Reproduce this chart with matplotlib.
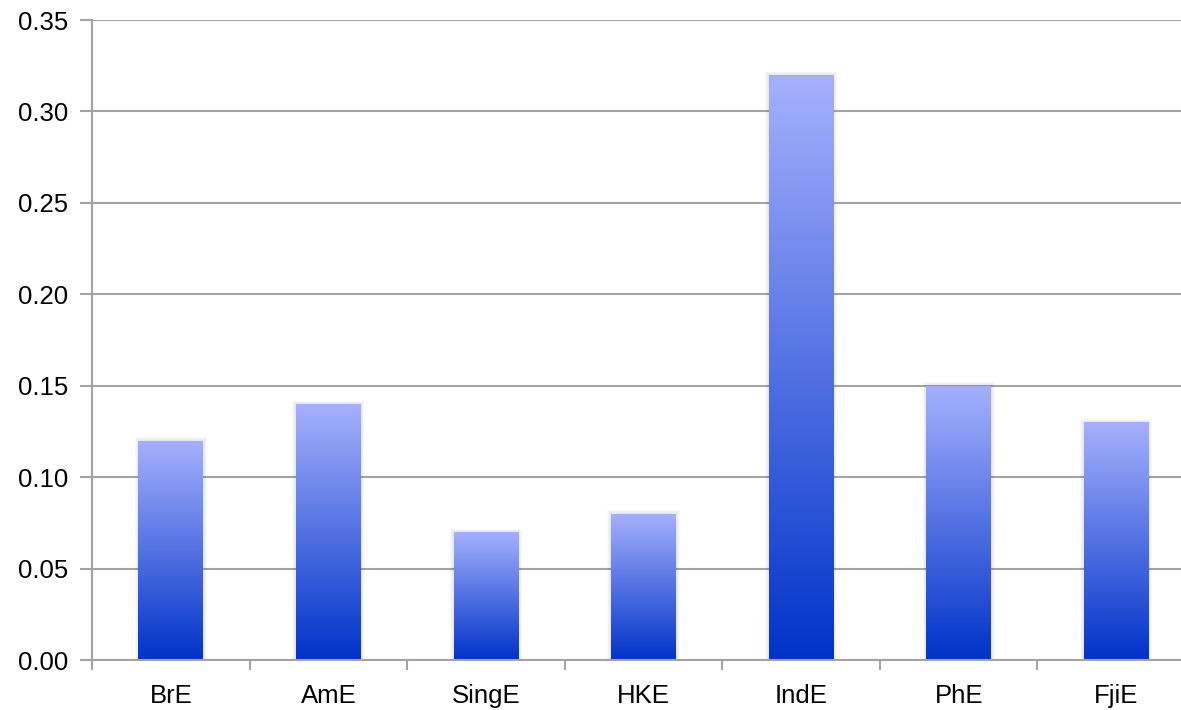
import numpy as np
import matplotlib
matplotlib.use("Agg")
import matplotlib.pyplot as plt
from matplotlib.colors import LinearSegmentedColormap
from matplotlib.patches import Rectangle

categories = ["BrE", "AmE", "SingE", "HKE", "IndE", "PhE", "FjiE"]
values = [0.12, 0.14, 0.07, 0.08, 0.32, 0.15, 0.13]
yticks = [0.00, 0.05, 0.10, 0.15, 0.20, 0.25, 0.30, 0.35]

plt.rcParams['font.family'] = ['Liberation Sans', 'DejaVu Sans']

W, H = 1181, 710
fig = plt.figure(figsize=(W / 100, H / 100), dpi=100)
ax = fig.add_axes([92 / W, 50 / H, 1103 / W, 640 / H])

grid_c = "#a3a3a3"
cmap = LinearSegmentedColormap.from_list("barfade", ["#0033c9", "#a6b1fd"])
bar_w = 0.41
x = np.arange(len(categories))

bars = ax.bar(x, values, width=bar_w, color="none", zorder=3, linewidth=0)

grad = np.linspace(0, 1, 256).reshape(-1, 1)
for rect in bars:
    x0 = rect.get_x()
    w = rect.get_width()
    h = rect.get_height()
    # soft drop shadow around each bar
    for k in range(1, 5):
        dx = 0.006 * k
        dy = 0.00045 * k
        ax.add_patch(Rectangle((x0 - dx, 0), w + 2 * dx, h + dy,
                               facecolor="black", alpha=0.022, linewidth=0, zorder=2))
    im = ax.imshow(grad, extent=[x0, x0 + w, 0, h], origin="lower",
                   cmap=cmap, aspect="auto", zorder=3, interpolation="bilinear")
    im.set_clip_path(rect)

ax.set_xlim(-0.5, len(categories) - 0.5)
ax.set_ylim(0, 0.35)
ax.set_yticks(yticks)
ax.set_yticklabels([f"{v:.2f}" for v in yticks])
ax.yaxis.grid(True, color=grid_c, linewidth=1.5)
ax.set_axisbelow(True)

ax.set_xticks(x)
ax.set_xticklabels(categories)
ax.set_xticks(np.arange(-0.5, len(categories) + 0.5, 1), minor=True)
ax.tick_params(axis="x", which="major", length=0, pad=17, labelsize=18.5, colors="black")
ax.tick_params(axis="x", which="minor", length=7, width=1.5, color=grid_c, direction="out")
ax.tick_params(axis="y", length=9, width=1.5, color=grid_c, direction="out", pad=8,
               labelsize=18.5, labelcolor="black")

for s in ["top", "right"]:
    ax.spines[s].set_visible(False)
for s in ["left", "bottom"]:
    ax.spines[s].set_color(grid_c)
    ax.spines[s].set_linewidth(1.5)
    ax.spines[s].set_zorder(4)

fig.savefig("out.png", dpi=100)
